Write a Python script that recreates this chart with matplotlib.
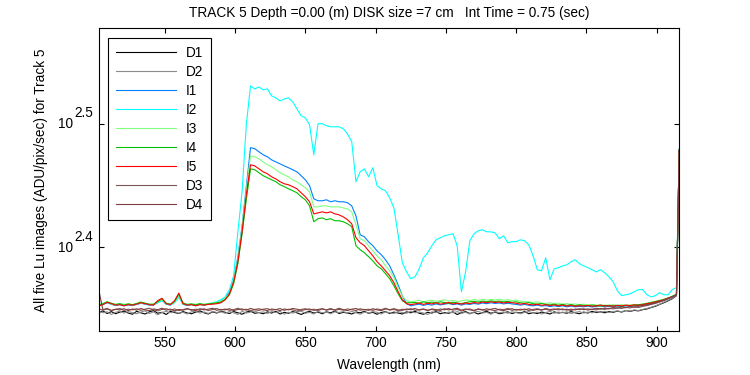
import matplotlib
matplotlib.use('Agg')
import matplotlib.pyplot as plt
import numpy as np

plt.rcParams['font.family'] = ['Liberation Sans', 'DejaVu Sans']
plt.rcParams['font.size'] = 9.8

# wavelength grid (nm), last sample at 916
wl = np.append(np.arange(503, 915, 3), 916)

D1 = [222.4, 223.1, 222.0, 222.8, 221.9, 222.6, 223.0, 222.2, 221.7, 222.9,
      222.3, 221.8, 222.7, 223.2, 222.1, 222.5, 221.6, 222.9, 222.4, 222.0,
      222.8, 222.2, 221.9, 222.6, 223.1, 222.3, 221.8, 222.7, 222.2, 222.9,
      222.5, 222.0, 222.8, 222.3, 221.7, 222.6, 223.0, 222.1, 222.4, 221.9,
      222.7, 222.2, 222.9, 221.8, 222.5, 222.1, 222.8, 222.3, 221.6, 222.4,
      222.9, 222.2, 222.6, 221.9, 222.7, 222.3, 223.0, 222.0, 222.5, 222.2,
      221.8, 222.6, 222.3, 222.9, 222.1, 222.5, 221.7, 222.4, 222.8, 222.0,
      222.6, 222.2, 221.8, 222.7, 222.3, 222.9, 222.1, 221.7, 222.5, 222.2,
      222.8, 221.9, 222.4, 222.1, 222.7, 221.6, 222.3, 222.8, 222.0, 222.5,
      221.8, 222.4, 222.9, 222.1, 222.6, 221.9, 222.3, 222.7, 222.0, 222.5,
      222.2, 222.8, 221.9, 222.4, 222.0, 222.6, 222.3, 221.8, 222.7, 222.2,
      222.5, 222.1, 222.8, 222.3, 221.9, 222.6, 222.2, 222.9, 222.4, 222.7,
      222.3, 222.8, 222.5, 223.0, 222.6, 223.2, 222.9, 223.3, 223.1, 223.6,
      223.9, 224.5, 225.0, 225.8, 226.5, 227.3, 228.2, 229.5, 301.2]

D2 = [222.9, 222.3, 222.7, 221.6, 222.5, 223.0, 222.2, 222.8, 222.4, 221.9,
      222.6, 223.1, 222.0, 222.7, 221.5, 222.4, 222.9, 222.3, 222.8, 222.1,
      222.5, 221.8, 222.7, 223.0, 222.2, 222.6, 222.0, 222.9, 222.4, 222.7,
      222.1, 222.8, 222.3, 221.6, 222.9, 222.2, 222.6, 223.0, 222.3, 222.7,
      222.0, 222.8, 222.4, 222.9, 221.7, 222.5, 222.2, 222.7, 223.0, 222.1,
      222.5, 221.8, 222.9, 222.3, 222.6, 221.9, 222.7, 222.4, 222.8, 222.2,
      222.9, 222.3, 221.7, 222.6, 222.2, 222.8, 222.5, 221.8, 222.7, 222.3,
      222.0, 222.8, 222.4, 222.1, 222.9, 222.3, 222.6, 222.2, 221.6, 222.7,
      222.4, 222.9, 222.0, 222.6, 222.3, 222.8, 222.1, 222.5, 221.8, 222.6,
      222.9, 222.2, 222.5, 221.7, 222.8, 222.3, 222.6, 222.1, 222.7, 222.4,
      221.9, 222.5, 222.8, 222.2, 222.6, 221.8, 222.4, 222.9, 222.1, 222.6,
      222.3, 222.7, 222.0, 222.5, 222.8, 222.2, 222.6, 222.3, 222.8, 222.5,
      222.9, 222.4, 222.8, 223.1, 222.7, 223.3, 223.0, 223.5, 223.2, 223.7,
      224.1, 224.6, 225.2, 225.9, 226.7, 227.5, 228.4, 229.6, 301.2]

I1 = [225.4, 225.8, 226.5, 225.9, 225.3, 225.7, 225.2, 225.6, 225.3, 225.8,
      226.3, 225.9, 225.5, 225.6, 226.6, 227.6, 225.9, 225.5, 226.7, 229.2,
      225.8, 225.4, 225.7, 225.3, 225.8, 225.5, 225.9, 226.2, 226.6, 227.2,
      228.7, 230.8, 236.4, 246.7, 261.4, 281.2, 302.4, 301.8, 300.1, 298.4,
      297.3, 295.6, 294.5, 293.4, 292.3, 291.3, 290.2, 289.1, 287.0, 284.8,
      281.7, 274.9, 273.9, 273.9, 274.4, 273.4, 273.9, 273.4, 273.4, 272.9,
      271.3, 266.3, 257.1, 256.1, 253.7, 251.9, 249.5, 247.7, 245.4, 242.6,
      238.6, 234.2, 229.5, 226.1, 225.2, 225.6, 225.9, 225.4, 225.8, 225.5,
      226.0, 225.6, 225.9, 226.2, 225.7, 226.0, 225.5, 226.0, 225.8, 226.2,
      225.9, 226.4, 226.1, 226.5, 226.2, 226.4, 226.0, 226.3, 226.0, 225.8,
      225.5, 225.8, 225.4, 225.2, 225.5, 225.1, 225.3, 224.9, 225.2, 224.9,
      225.2, 224.8, 225.1, 224.8, 225.0, 224.8, 225.1, 224.7, 225.0, 225.2,
      224.8, 225.0, 224.7, 225.1, 224.9, 225.2, 225.0, 225.3, 225.1, 225.4,
      225.8, 226.2, 226.6, 227.1, 227.6, 228.3, 228.9, 229.8, 301.2]

I2 = [225.7, 226.1, 226.6, 226.0, 225.5, 226.0, 225.6, 225.9, 225.5, 225.9,
      226.4, 226.0, 225.6, 225.8, 226.5, 227.4, 226.0, 225.6, 226.6, 228.8,
      225.9, 225.5, 225.8, 225.5, 225.9, 225.7, 226.1, 226.5, 227.0, 227.8,
      229.0, 232.1, 238.2, 258.5, 278.5, 315.6, 339.3, 337.4, 338.6, 336.8,
      337.4, 333.0, 331.8, 329.9, 331.1, 331.8, 329.3, 325.1, 320.9, 319.7,
      315.6, 298.4, 316.2, 316.2, 315.0, 314.4, 314.4, 314.4, 313.2, 310.3,
      305.8, 283.8, 289.1, 290.7, 286.4, 291.3, 281.7, 280.1, 279.1, 275.4,
      270.3, 257.1, 244.0, 239.9, 236.9, 237.7, 241.3, 246.3, 248.6, 251.9,
      254.7, 255.7, 256.6, 257.1, 257.6, 251.9, 231.2, 239.9, 254.2, 257.6,
      259.0, 259.5, 258.5, 258.5, 258.0, 255.2, 256.6, 253.3, 253.8, 253.8,
      254.7, 254.2, 252.3, 247.2, 240.9, 240.4, 246.3, 236.4, 241.3, 241.8,
      242.6, 243.1, 244.5, 245.4, 243.6, 242.6, 241.8, 240.9, 239.9, 240.9,
      239.5, 237.7, 235.5, 231.6, 229.5, 229.9, 230.3, 231.2, 232.1, 232.1,
      229.9, 229.0, 229.5, 230.8, 229.9, 229.9, 232.1, 233.0, 302.0]

I3 = [225.9, 226.3, 226.8, 226.0, 225.6, 226.2, 225.8, 226.1, 225.6, 226.0,
      226.6, 226.2, 225.8, 226.0, 226.8, 227.8, 226.2, 225.8, 226.9, 229.6,
      226.1, 225.7, 226.0, 225.8, 226.2, 225.9, 226.1, 226.4, 226.7, 227.1,
      228.6, 230.3, 236.0, 245.8, 260.5, 279.6, 297.8, 297.3, 296.1, 294.5,
      292.9, 291.8, 290.2, 288.6, 287.5, 286.4, 284.8, 283.8, 282.2, 280.6,
      278.5, 270.8, 270.8, 271.3, 271.3, 270.8, 270.8, 270.8, 270.3, 269.8,
      268.3, 261.9, 255.2, 254.2, 251.9, 249.5, 247.2, 245.4, 242.6, 240.4,
      237.3, 232.9, 229.5, 227.3, 226.9, 227.2, 227.5, 226.9, 227.3, 227.6,
      227.1, 227.4, 227.8, 227.2, 227.5, 227.0, 227.3, 227.7, 227.4, 227.9,
      227.5, 228.0, 227.6, 227.9, 227.7, 228.0, 227.6, 227.8, 227.4, 227.6,
      227.2, 227.0, 226.8, 226.6, 226.9, 226.4, 226.2, 226.5, 226.1, 226.3,
      225.9, 226.2, 225.8, 226.0, 225.7, 225.9, 225.6, 225.8, 225.5, 225.7,
      225.4, 225.6, 225.3, 225.5, 225.7, 225.4, 225.6, 225.8, 225.6, 225.9,
      226.3, 226.7, 227.1, 227.5, 228.0, 228.6, 229.3, 230.1, 301.2]

I4 = [225.6, 226.0, 226.9, 226.3, 225.8, 226.1, 225.5, 226.0, 225.7, 226.2,
      226.8, 226.3, 225.9, 225.8, 227.0, 228.2, 226.3, 225.9, 227.1, 230.2,
      226.4, 225.8, 226.0, 225.6, 226.1, 225.7, 226.0, 226.2, 226.4, 226.8,
      227.9, 229.9, 234.7, 243.6, 257.6, 274.4, 290.7, 290.2, 288.6, 287.0,
      285.9, 284.8, 283.8, 282.2, 281.2, 280.1, 279.1, 278.0, 276.0, 274.4,
      271.3, 263.4, 264.9, 265.3, 264.4, 264.9, 263.9, 263.9, 263.4, 262.4,
      261.0, 251.9, 250.0, 248.6, 246.8, 244.9, 242.6, 241.3, 239.1, 236.9,
      233.8, 230.3, 227.3, 226.5, 226.5, 226.6, 226.3, 226.9, 226.5, 226.8,
      226.4, 226.9, 226.6, 226.3, 226.7, 226.4, 226.1, 226.6, 226.9, 227.1,
      226.8, 227.2, 226.9, 227.3, 227.0, 227.2, 226.9, 227.1, 226.7, 226.9,
      226.5, 226.3, 226.6, 226.1, 225.9, 226.2, 225.8, 225.6, 225.9, 225.5,
      225.8, 225.4, 225.7, 225.3, 225.6, 225.4, 225.2, 225.5, 225.3, 225.1,
      225.4, 225.2, 225.5, 225.3, 225.0, 225.4, 225.2, 225.5, 225.7, 225.9,
      226.2, 226.6, 227.0, 227.4, 227.9, 228.4, 229.2, 230.0, 301.2]

I5 = [225.2, 225.7, 226.7, 226.1, 225.5, 225.7, 225.2, 225.7, 225.5, 225.9,
      226.5, 226.1, 225.7, 225.5, 227.4, 228.4, 226.1, 225.7, 227.4, 230.6,
      226.1, 225.5, 225.7, 225.2, 225.7, 225.5, 225.8, 225.9, 226.1, 226.5,
      227.8, 230.3, 235.5, 244.5, 258.5, 277.0, 292.9, 292.3, 290.7, 289.1,
      288.0, 286.4, 285.3, 283.8, 282.7, 282.2, 281.2, 280.1, 278.0, 276.0,
      273.4, 267.3, 267.8, 268.3, 267.8, 268.3, 267.3, 266.8, 265.8, 264.4,
      262.4, 255.7, 253.3, 251.9, 249.5, 247.2, 244.5, 242.6, 240.4, 238.2,
      235.1, 231.2, 227.8, 226.1, 225.7, 226.0, 226.4, 225.8, 226.3, 226.0,
      226.5, 225.9, 226.2, 226.6, 226.0, 226.3, 225.9, 226.4, 226.1, 226.6,
      226.3, 226.8, 226.5, 226.9, 226.6, 226.8, 226.4, 226.7, 226.5, 226.3,
      225.9, 226.2, 225.8, 225.6, 225.9, 225.4, 225.7, 225.3, 225.6, 225.2,
      225.5, 225.1, 225.4, 225.0, 225.3, 225.1, 225.4, 225.0, 225.2, 225.5,
      225.1, 225.3, 225.0, 225.4, 225.2, 225.5, 225.3, 225.6, 225.4, 225.7,
      226.1, 226.4, 226.8, 227.3, 227.7, 228.5, 229.0, 229.9, 301.2]

D3 = [224.0, 223.4, 223.9, 223.2, 223.7, 224.1, 223.3, 223.8, 223.5, 224.0,
      223.3, 223.8, 224.2, 223.5, 223.1, 223.7, 224.0, 223.4, 223.9, 223.2,
      223.6, 224.1, 223.3, 223.8, 223.5, 224.0, 223.2, 223.7, 224.1, 223.4,
      223.9, 223.3, 223.6, 224.2, 223.4, 223.8, 223.1, 223.7, 224.0, 223.5,
      223.2, 223.9, 223.6, 224.1, 223.3, 223.8, 223.5, 223.0, 223.7, 224.0,
      223.4, 223.8, 223.2, 223.9, 223.5, 224.1, 223.3, 223.7, 223.4, 223.9,
      223.6, 223.2, 224.0, 223.5, 223.8, 223.3, 223.9, 223.6, 224.2, 223.4,
      223.7, 223.1, 223.8, 223.5, 224.0, 223.3, 223.6, 223.9, 223.4, 223.7,
      223.2, 223.9, 223.5, 224.1, 223.4, 223.7, 223.0, 223.6, 223.9, 223.3,
      223.8, 223.4, 224.0, 223.5, 223.2, 223.8, 223.6, 224.1, 223.3, 223.7,
      223.4, 223.9, 223.2, 223.7, 224.0, 223.5, 223.8, 223.3, 223.6, 224.0,
      223.5, 223.8, 223.2, 223.9, 223.6, 224.0, 223.4, 223.8, 223.5, 224.1,
      223.7, 224.2, 223.9, 224.4, 224.1, 224.6, 224.3, 224.8, 224.5, 225.0,
      225.3, 225.8, 226.2, 226.8, 227.4, 228.1, 228.9, 229.8, 301.2]

D4 = [232.0, 223.6, 224.1, 223.3, 223.8, 223.5, 224.0, 223.2, 223.9, 223.4,
      224.1, 223.5, 223.2, 223.9, 223.6, 224.2, 223.4, 223.8, 223.1, 223.7,
      223.4, 223.9, 223.6, 223.2, 224.0, 223.5, 223.8, 224.2, 223.3, 223.7,
      223.5, 224.0, 223.2, 223.7, 223.9, 223.4, 224.1, 223.6, 223.3, 223.8,
      224.0, 223.4, 223.7, 223.2, 223.9, 223.5, 224.1, 223.8, 223.3, 223.6,
      223.9, 223.3, 223.7, 224.0, 223.4, 223.8, 223.5, 224.2, 223.6, 223.2,
      223.8, 224.1, 223.4, 223.7, 223.3, 224.0, 223.5, 223.2, 223.9, 223.6,
      224.0, 223.5, 223.3, 223.9, 223.6, 224.1, 223.4, 223.8, 223.2, 223.9,
      223.6, 223.3, 224.0, 223.5, 223.8, 224.2, 223.4, 223.9, 223.5, 223.2,
      223.9, 223.6, 223.3, 223.8, 224.1, 223.5, 223.2, 223.7, 224.0, 223.4,
      223.8, 223.5, 224.0, 223.3, 223.7, 223.4, 224.1, 223.6, 223.9, 223.5,
      223.9, 223.4, 223.8, 223.5, 224.0, 223.6, 223.9, 223.7, 224.2, 223.8,
      224.2, 223.9, 224.5, 224.2, 224.7, 224.4, 224.9, 224.6, 225.1, 225.3,
      225.6, 226.0, 226.5, 227.0, 227.6, 228.3, 229.1, 230.0, 301.2]

names = ['D1', 'D2', 'I1', 'I2', 'I3', 'I4', 'I5', 'D3', 'D4']
series = [D1, D2, I1, I2, I3, I4, I5, D3, D4]
colors = ['#000000', '#8c8c8c', '#0080ff', '#00ffff', '#80ff80',
          '#00c000', '#ff0000', '#805555', '#7f3f3f']

xticks = [550, 600, 650, 700, 750, 800, 850, 900]
yticks = [10**2.4, 10**2.5]
ytick_exp = ['2.4', '2.5']

fig = plt.figure(figsize=(7.5, 3.75), dpi=100)
ax = fig.add_axes([0.1316, 0.1181, 0.7741, 0.8064])

for name, vals, c in zip(names, series, colors):
    ax.plot(wl, vals, color=c, lw=0.8, label=name)

ax.set_yscale('log')
ax.set_xlim(503, 916)
ax.set_ylim(215.0, 377.7)
ax.set_xticks(xticks)
ax.set_yticks(yticks)
ax.yaxis.set_minor_locator(matplotlib.ticker.NullLocator())
ax.set_yticklabels(['', ''])
ax.tick_params(direction='in', length=3.6, width=0.8, top=True, right=True,
               labelsize=9.8, pad=4)
for sp in ax.spines.values():
    sp.set_linewidth(0.8)

# MATLAB-style 10^x tick labels
for yv, ex in zip(yticks, ytick_exp):
    ax.annotate('10', xy=(0, yv), xycoords=('axes fraction', 'data'),
                xytext=(-18.5, -0.5), textcoords='offset points',
                ha='right', va='center', fontsize=9.8)
    ax.annotate(ex, xy=(0, yv), xycoords=('axes fraction', 'data'),
                xytext=(-17.8, 7.5), textcoords='offset points',
                ha='left', va='center', fontsize=9.8)

fig.text(0.5187, 1 - 13 / 375,
         'TRACK 5 Depth =0.00 (m) DISK size =7 cm   Int Time = 0.75 (sec)',
         ha='center', va='center', fontsize=9.8)
fig.text(0.5187, 1 - 365 / 375, 'Wavelength (nm)',
         ha='center', va='center', fontsize=9.8)
fig.text(41.5 / 750, 0.52, 'All five Lu images (ADU/pix/sec) for Track 5',
         ha='center', va='center', rotation=90, fontsize=9.8)

leg = ax.legend(loc='upper left', bbox_to_anchor=(0.0165, 0.967),
                borderaxespad=0, fancybox=False, framealpha=1,
                edgecolor='black', fontsize=9.8, handlelength=4.4,
                handletextpad=0.75, labelspacing=0.37, borderpad=0.55)
leg.get_frame().set_linewidth(0.8)

fig.savefig('out.png', dpi=100)
